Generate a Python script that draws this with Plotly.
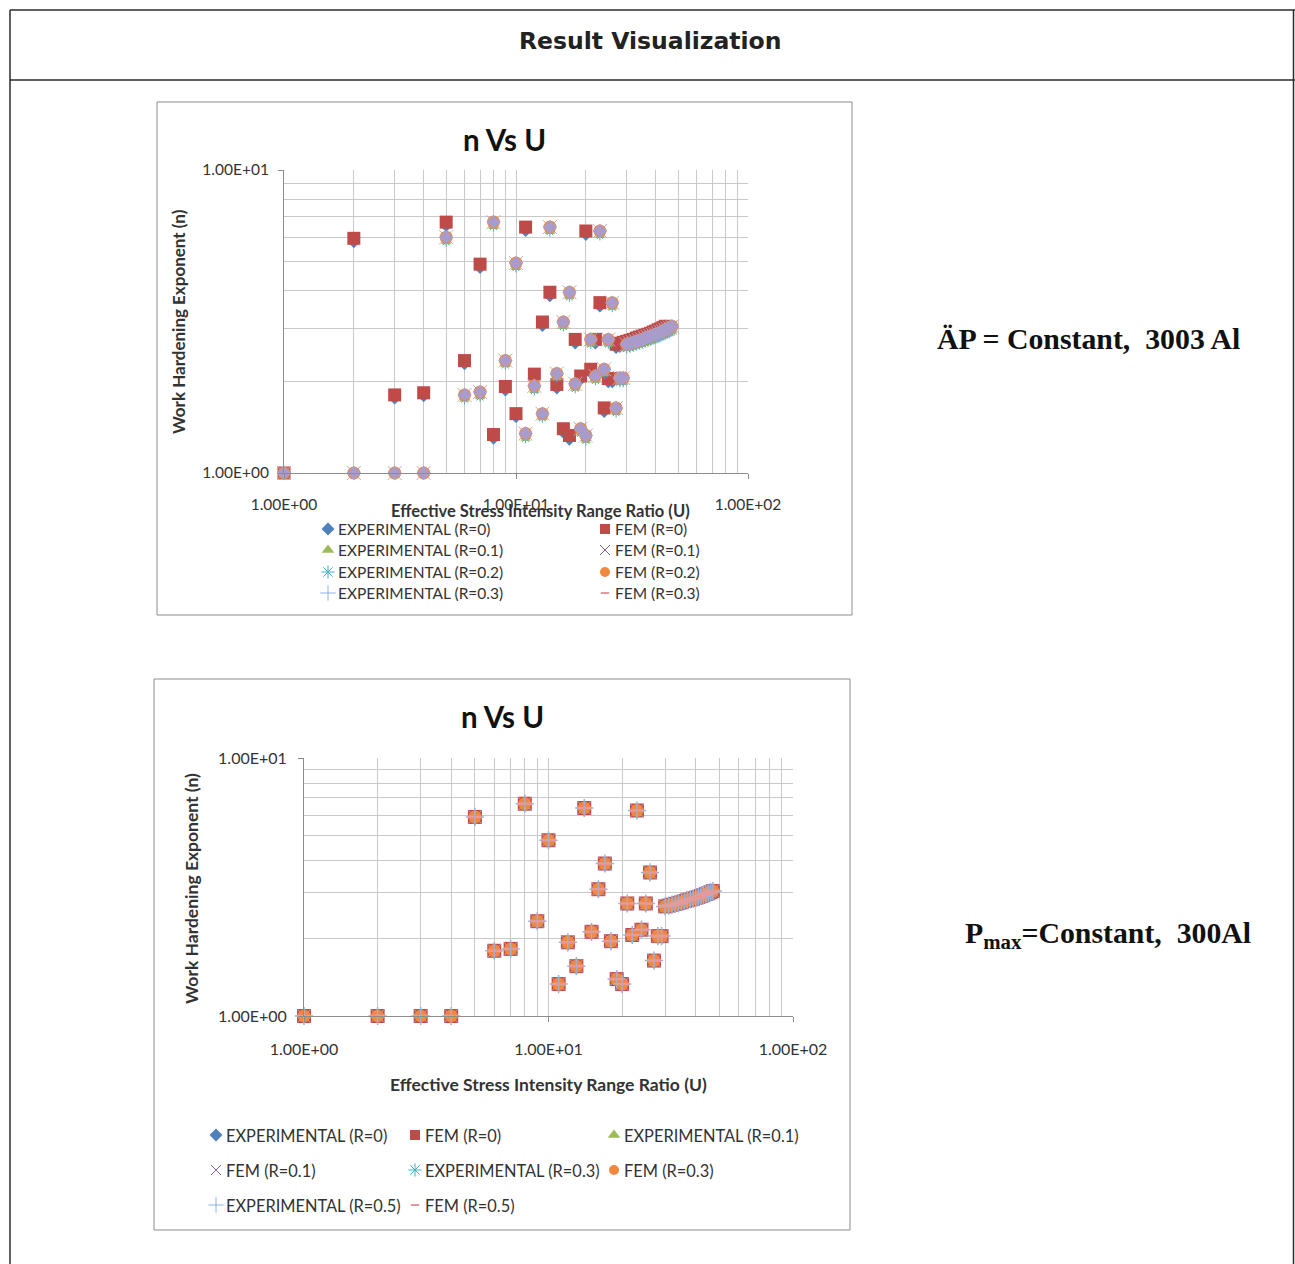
import plotly.graph_objects as go

W, H = 1295, 1264

# ---------------- data ----------------
# chart 1 (dP = constant) : R = 0 series
U1_R0 = [1, 2, 3, 4, 5, 6, 7, 8, 9, 10, 11, 12, 13, 14, 15, 16, 17, 18, 19, 20, 21, 22,
         23, 24, 25, 26, 27, 28, 29, 30, 31, 32, 33, 34, 35, 36, 37, 38, 39, 40, 41, 42, 43, 44]
N1_FEM_R0 = [1.00, 5.95, 1.81, 1.84, 6.73, 2.35, 4.89, 1.34, 1.93, 1.57,
             6.48, 2.12, 3.15, 3.95, 1.96, 1.40, 1.33, 2.76, 2.09, 6.29,
             2.20, 2.76, 3.65, 1.64, 2.05, 2.05, 2.66, 2.68, 2.70, 2.72,
             2.74, 2.76, 2.79, 2.81, 2.83, 2.85, 2.87, 2.89, 2.92, 2.94,
             2.97, 2.99, 3.02, 3.05]
N1_EXP_R0 = [1.00, 5.74, 1.75, 1.78, 6.50, 2.27, 4.72, 1.29, 1.86, 1.52,
             6.25, 2.05, 3.04, 3.81, 1.89, 1.35, 1.28, 2.66, 2.02, 6.07,
             2.12, 2.66, 3.52, 1.58, 1.98, 1.98, 2.57, 2.59, 2.61, 2.63,
             2.65, 2.67, 2.69, 2.71, 2.73, 2.75, 2.77, 2.79, 2.82, 2.84,
             2.86, 2.89, 2.91, 2.94]
# chart 1 : R = 0.1 / 0.2 / 0.3 series
U1_R = [1, 2, 3, 4, 5, 6, 7, 8, 9, 10, 11, 12, 13, 14, 15, 16, 17, 18, 19, 20, 21, 22, 23,
        24, 25, 26, 27, 28, 29, 30, 31, 32, 33, 34, 35, 36, 37, 38, 39, 40, 41, 42, 43, 44, 45, 46, 47]
N1_FEM_R = [1.00, 1.00, 1.00, 1.00, 6.00, 1.81, 1.85, 6.73, 2.35, 4.93,
            1.35, 1.94, 1.57, 6.48, 2.13, 3.15, 3.95, 1.97, 1.40, 1.33,
            2.76, 2.09, 6.29, 2.20, 2.76, 3.65, 1.64, 2.06, 2.06, 2.66,
            2.68, 2.70, 2.72, 2.74, 2.76, 2.79, 2.81, 2.83, 2.85, 2.87,
            2.89, 2.92, 2.94, 2.97, 2.99, 3.02, 3.05]
N1_EXP_R = [1.00, 1.00, 1.00, 1.00, 5.79, 1.75, 1.78, 6.50, 2.27, 4.76,
            1.30, 1.87, 1.52, 6.25, 2.06, 3.04, 3.81, 1.90, 1.35, 1.28,
            2.66, 2.02, 6.07, 2.12, 2.66, 3.52, 1.58, 1.99, 1.99, 2.57,
            2.59, 2.61, 2.63, 2.65, 2.67, 2.69, 2.71, 2.73, 2.75, 2.77,
            2.79, 2.82, 2.84, 2.86, 2.89, 2.91, 2.94]

# chart 2 (Pmax = constant)
U2 = [1, 2, 3, 4, 5, 6, 7, 8, 9, 10, 11, 12, 13, 14, 15, 16, 17, 18, 19, 20, 21, 22, 23,
      24, 25, 26, 27, 28, 29, 30, 31, 32, 33, 34, 35, 36, 37, 38, 39, 40, 41, 42, 43, 44, 45, 46, 47]
N2_FEM = [1.00, 1.00, 1.00, 1.00, 5.91, 1.79, 1.82, 6.65, 2.33, 4.80,
          1.33, 1.93, 1.56, 6.40, 2.12, 3.10, 3.90, 1.95, 1.39, 1.33,
          2.73, 2.06, 6.26, 2.16, 2.73, 3.60, 1.64, 2.04, 2.04, 2.66,
          2.68, 2.70, 2.72, 2.74, 2.76, 2.79, 2.81, 2.83, 2.85, 2.87,
          2.89, 2.92, 2.94, 2.97, 2.99, 3.02, 3.05]
N2_EXP = [1.00, 1.00, 1.00, 1.00, 5.77, 1.75, 1.78, 6.49, 2.27, 4.68,
          1.30, 1.88, 1.52, 6.24, 2.07, 3.02, 3.80, 1.90, 1.36, 1.30,
          2.66, 2.01, 6.11, 2.11, 2.66, 3.51, 1.60, 1.99, 1.99, 2.60,
          2.62, 2.64, 2.66, 2.68, 2.70, 2.72, 2.74, 2.76, 2.78, 2.80,
          2.82, 2.85, 2.87, 2.90, 2.92, 2.95, 2.98]

X_TICKS = [1, 10, 100]
X_TICKTEXT = ["1.00E+00", "1.00E+01", "1.00E+02"]
Y_TICKS = [1, 10]
Y_TICKTEXT = ["1.00E+00", "1.00E+01"]
X_MINOR = [2, 3, 4, 5, 6, 7, 8, 9, 20, 30, 40, 50, 60, 70, 80, 90]
Y_MINOR = [2, 3, 4, 5, 6, 7, 8, 9]

LEGEND1 = ["EXPERIMENTAL (R=0)", "FEM (R=0)", "EXPERIMENTAL (R=0.1)", "FEM (R=0.1)",
           "EXPERIMENTAL (R=0.2)", "FEM (R=0.2)", "EXPERIMENTAL (R=0.3)", "FEM (R=0.3)"]
LEGEND2 = ["EXPERIMENTAL (R=0)", "FEM (R=0)", "EXPERIMENTAL (R=0.1)", "FEM (R=0.1)",
           "EXPERIMENTAL (R=0.3)", "FEM (R=0.3)", "EXPERIMENTAL (R=0.5)", "FEM (R=0.5)"]

# ---------------- styles ----------------
FONT = "Lato"
TXT = "#333333"
C_BLUE, C_RED, C_GREEN, C_PURPLE = "#4F81BD", "#BE4B48", "#9BBB59", "#8064A2"
C_CYAN, C_ORANGE, C_LBLUE, C_PINK = "#4BACC6", "#F0883E", "#8EB4E3", "#E29A9A"


def mk(symbol, color, size, line=False, lw=1.2):
    if line:
        return dict(symbol=symbol, size=size, color=color, line=dict(color=color, width=lw))
    return dict(symbol=symbol, size=size, color=color, line=dict(width=0))


def fx(x):
    return x / W


def fy(y):
    return 1 - y / H


fig = go.Figure()


def add(x, y, marker, xa, ya, name):
    fig.add_trace(go.Scatter(x=x, y=y, mode="markers", marker=marker, name=name,
                             xaxis=xa, yaxis=ya, cliponaxis=False, showlegend=False))


# chart 1 series
add(U1_R0, N1_EXP_R0, mk("diamond", C_BLUE, 8), "x", "y", LEGEND1[0])
add(U1_R0, N1_FEM_R0, mk("square", C_RED, 13), "x", "y", LEGEND1[1])
add(U1_R, N1_EXP_R, mk("triangle-up", C_GREEN, 9), "x", "y", LEGEND1[2])
add(U1_R, N1_FEM_R, mk("x-thin", "#B7A8D4", 14, True, 1), "x", "y", LEGEND1[3])
add(U1_R, N1_EXP_R, mk("asterisk", C_CYAN, 8, True, 1), "x", "y", LEGEND1[4])
add(U1_R, N1_FEM_R, mk("circle", C_ORANGE, 13), "x", "y", LEGEND1[5])
add(U1_R, N1_FEM_R, mk("cross-thin", C_LBLUE, 9, True, 1), "x", "y", LEGEND1[6])
add(U1_R, N1_FEM_R, mk("diamond", "#A99CCB", 11), "x", "y", LEGEND1[7])

# chart 2 series
add(U2, N2_EXP, mk("diamond", C_BLUE, 8), "x2", "y2", LEGEND2[0])
add(U2, N2_FEM, mk("square", C_RED, 14), "x2", "y2", LEGEND2[1])
add(U2, N2_EXP, mk("triangle-up", C_GREEN, 9), "x2", "y2", LEGEND2[2])
add(U2, N2_FEM, mk("x-thin", "#B7A8D4", 13, True, 1), "x2", "y2", LEGEND2[3])
add(U2, N2_EXP, mk("asterisk", C_CYAN, 8, True, 1), "x2", "y2", LEGEND2[4])
add(U2, N2_FEM, mk("circle", C_ORANGE, 13), "x2", "y2", LEGEND2[5])
add(U2, N2_FEM, mk("cross-thin", "#9DB0D8", 13, True, 1.5), "x2", "y2", LEGEND2[6])
add(U2, N2_FEM, mk("line-ew", C_PINK, 10, True, 2.5), "x2", "y2", LEGEND2[7])

# legend keys (pixel overlay axis)
annotations = []


def legend_key(px, py, sym, label, size):
    fig.add_trace(go.Scatter(x=[px], y=[py], mode="markers", marker=sym, xaxis="x3", yaxis="y3",
                             cliponaxis=False, showlegend=False, hoverinfo="skip"))
    annotations.append(dict(x=fx(px + 8), y=fy(py), xref="paper", yref="paper", text=label,
                            showarrow=False, xanchor="left", yanchor="middle",
                            font=dict(family=FONT, size=size, color=TXT)))


small = [mk("diamond", C_BLUE, 10), mk("square", C_RED, 10), mk("triangle-up", C_GREEN, 11),
         mk("x-thin", C_PURPLE, 10, True, 1), mk("asterisk", C_CYAN, 11, True, 1),
         mk("circle", C_ORANGE, 10), mk("cross-thin", C_LBLUE, 11, True, 1),
         mk("line-ew", C_PINK, 6, True, 2)]

rows1 = [529, 550, 572, 593]
cols1 = [328, 605]
for i, lab in enumerate(LEGEND1):
    legend_key(cols1[i % 2], rows1[i // 2], small[i], lab, 15.5)

rows2 = [1135, 1170, 1205]
cols2 = [216, 415, 614]
for i, lab in enumerate(LEGEND2):
    legend_key(cols2[i % 3], rows2[i // 3], small[i], lab, 16.4)


def axis_common(dom, rng, tv, tt, minor, anchor, fsize):
    return dict(type="log", domain=dom, range=rng, anchor=anchor, automargin=False,
                tickmode="array", tickvals=tv, ticktext=tt,
                ticks="outside", ticklen=5, tickcolor="#8c8c8c",
                showline=True, linecolor="#8c8c8c", linewidth=1,
                showgrid=True, gridcolor="#c9c9c9", gridwidth=1, zeroline=False,
                minor=dict(tickmode="array", tickvals=minor, showgrid=True,
                           gridcolor="#c9c9c9", gridwidth=1, ticks=""),
                tickfont=dict(family=FONT, size=fsize, color=TXT), fixedrange=True)


# chart 1 plot area: x 284..748, y 170..473
xa1 = axis_common([fx(284), fx(748)], [0, 2], X_TICKS, X_TICKTEXT, X_MINOR, "y", 15.5)
xa1["ticklabelstandoff"] = 12
ya1 = axis_common([fy(473), fy(170)], [0, 1], Y_TICKS, Y_TICKTEXT, Y_MINOR, "x", 15.5)
ya1["ticklabelstandoff"] = 6
# chart 2 plot area: x 304..793, y 758..1016
xa2 = axis_common([fx(304), fx(793)], [0, 2], X_TICKS, X_TICKTEXT, X_MINOR, "y2", 16)
xa2["ticklabelstandoff"] = 14
ya2 = axis_common([fy(1016), fy(758)], [0, 1], Y_TICKS, Y_TICKTEXT, Y_MINOR, "x2", 16)
ya2["ticklabelstandoff"] = 8

shapes = []


def line(x0, y0, x1, y1, color="#2b2b2b", w=1.5):
    shapes.append(dict(type="line", xref="paper", yref="paper", x0=fx(x0), y0=fy(y0),
                       x1=fx(x1), y1=fy(y1), line=dict(color=color, width=w)))


line(10, 10, 1295, 10)
line(10, 80, 1295, 80)
line(10, 10, 10, 1264)
line(1293.5, 10, 1293.5, 1264)
for (x0, y0, x1, y1) in [(157, 102, 852, 615), (154, 679, 850, 1230)]:
    shapes.append(dict(type="rect", xref="paper", yref="paper", x0=fx(x0), y0=fy(y0),
                       x1=fx(x1), y1=fy(y1), line=dict(color="#8c8c8c", width=1)))


def text(px, py, s, size, family=FONT, angle=0, xanchor="center", color=TXT):
    annotations.append(dict(x=fx(px), y=fy(py), xref="paper", yref="paper", text=s,
                            showarrow=False, xanchor=xanchor, yanchor="middle",
                            textangle=angle, font=dict(family=family, size=size, color=color)))


text(650, 41, "<b>Result Visualization</b>", 23.5, family="DejaVu Sans", color="#222222")
# chart 1 texts
text(504, 139, "<b>n Vs U</b>", 29.5, color="#111111")
text(178, 322, "<b>Work Hardening Exponent (n)</b>", 17, angle=-90)
text(540, 511, "<b>Effective Stress Intensity Range Ratio (U)</b>", 16.5)
# chart 2 texts
text(502, 716, "<b>n Vs U</b>", 29.5, color="#111111")
text(191, 888, "<b>Work Hardening Exponent (n)</b>", 17.5, angle=-90)
text(548, 1084, "<b>Effective Stress Intensity Range Ratio (U)</b>", 17.5)
# right column
text(935, 338, "<b>ÄP = Constant,  3003 Al</b>", 29.8, family="Liberation Serif",
     xanchor="left", color="#111111")
text(963, 935, "<b>P<sub>max</sub>=Constant,  300Al</b>", 29.8, family="Liberation Serif",
     xanchor="left", color="#111111")

fig.update_layout(
    template="none",
    width=W, height=H, margin=dict(l=0, r=0, t=0, b=0, pad=0, autoexpand=False),
    paper_bgcolor="white", plot_bgcolor="rgba(0,0,0,0)", showlegend=False,
    xaxis=xa1, yaxis=ya1, xaxis2=xa2, yaxis2=ya2,
    xaxis3=dict(domain=[0, 1], range=[0, W], visible=False, fixedrange=True, anchor="y3",
                automargin=False),
    yaxis3=dict(domain=[0, 1], range=[H, 0], visible=False, fixedrange=True, anchor="x3",
                automargin=False),
    shapes=shapes, annotations=annotations, hovermode=False,
)

fig.write_html("out.html")
